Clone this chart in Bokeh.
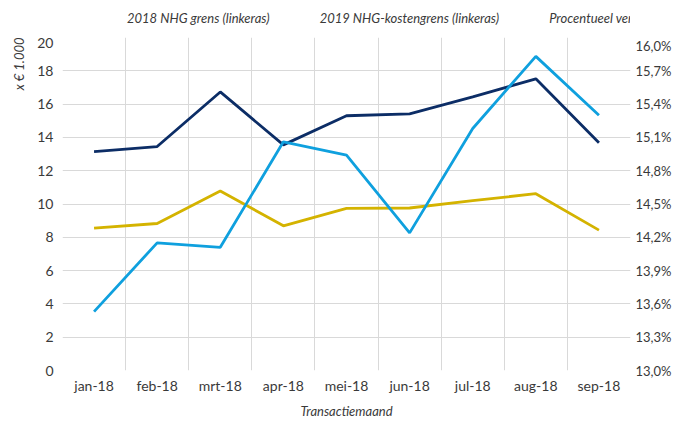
from bokeh.plotting import figure
from bokeh.layouts import column
from bokeh.models import (Range1d, LinearAxis, FixedTicker, CustomJSTickFormatter,
                          Legend, LegendItem, Title)
from bokeh.embed import file_html
from bokeh.resources import INLINE

months = ["jan-18", "feb-18", "mrt-18", "apr-18", "mei-18", "jun-18", "jul-18", "aug-18", "sep-18"]
nhg_2018 = [8.55, 8.83, 10.78, 8.69, 9.74, 9.76, 10.20, 10.62, 8.43]
nhg_2019 = [13.15, 13.45, 16.73, 13.55, 15.30, 15.41, 16.43, 17.52, 13.68]
pct_diff = [13.53, 14.15, 14.11, 15.06, 14.94, 14.24, 15.18, 15.83, 15.30]

left_ticks = [0, 2, 4, 6, 8, 10, 12, 14, 16, 18, 20]
pct_ticks = [13.0, 13.3, 13.6, 13.9, 14.2, 14.5, 14.8, 15.1, 15.4, 15.7, 16.0]
pct_tick_labels = ["13,0%", "13,3%", "13,6%", "13,9%", "14,2%", "14,5%", "14,8%",
                   "15,1%", "15,4%", "15,7%", "16,0%"]

series_names = ["2018 NHG grens (linkeras)", "2019 NHG-kostengrens (linkeras)",
                "Procentueel verschil (rechteras)"]

YELLOW = "#d4b300"
NAVY = "#0c2d66"
BLUE = "#0fa0de"
GRID = "#d9d9d9"
TXT = "#3a3a3a"
FONT = "Lato"
COLORS = [YELLOW, NAVY, BLUE]

xs = [i + 0.5 for i in range(len(months))]

# ---------------- main chart ----------------
p = figure(width=678, height=385, output_backend="svg", toolbar_location=None,
           x_range=Range1d(0, len(months)), y_range=Range1d(left_ticks[0], left_ticks[-1]),
           min_border_left=62, min_border_right=48, min_border_top=0, min_border_bottom=52)
p.outline_line_color = None
p.background_fill_color = "white"
p.border_fill_color = "white"

p.extra_y_ranges = {"pct": Range1d(pct_ticks[0], pct_ticks[-1])}

p.line(xs, nhg_2018, line_color=YELLOW, line_width=2.8)
p.line(xs, nhg_2019, line_color=NAVY, line_width=2.8)
p.line(xs, pct_diff, line_color=BLUE, line_width=2.8, y_range_name="pct")

xa = p.xaxis[0]
xa.ticker = FixedTicker(ticks=xs)
xa.formatter = CustomJSTickFormatter(args=dict(month_names=months),
                                     code="return month_names[Math.round(tick - 0.5)] || '';")
xa.axis_label = "Transactiemaand"
xa.axis_label_text_font = FONT
xa.axis_label_text_font_style = "italic"
xa.axis_label_text_font_size = "13px"
xa.axis_label_text_color = TXT
xa.axis_label_standoff = 6
xa.major_label_standoff = 6

ya = p.yaxis[0]
ya.ticker = FixedTicker(ticks=left_ticks)
ya.major_label_standoff = 9

ra = LinearAxis(y_range_name="pct",
                ticker=FixedTicker(ticks=pct_ticks),
                formatter=CustomJSTickFormatter(
                    args=dict(pct_vals=pct_ticks, pct_texts=pct_tick_labels),
                    code="const i = pct_vals.findIndex(t => Math.abs(t - tick) < 1e-6); return i >= 0 ? pct_texts[i] : '';"))
ra.major_label_standoff = 5
p.add_layout(ra, "right")

for ax in [xa, ya, ra]:
    ax.axis_line_color = None
    ax.major_tick_line_color = None
    ax.minor_tick_line_color = None
    ax.major_tick_out = 0
    ax.major_tick_in = 0
    ax.minor_tick_out = 0
    ax.minor_tick_in = 0
    ax.major_label_text_font = FONT
    ax.major_label_text_font_size = "14px"
    ax.major_label_text_color = TXT
ra.major_label_text_font_size = "13px"

p.xgrid.ticker = FixedTicker(ticks=list(range(len(months) + 1)))
p.ygrid.ticker = FixedTicker(ticks=left_ticks)
for g in [p.xgrid[0], p.ygrid[0]]:
    g.grid_line_color = GRID
    g.grid_line_width = 1

ytitle = Title(text="x € 1.000", align="right", text_font=FONT, text_font_style="italic",
               text_font_size="13px", text_color=TXT, standoff=15)
p.add_layout(ytitle, "left")

# ---------------- legend strip ----------------
lg = figure(width=678, height=37, output_backend="svg", toolbar_location=None,
            x_range=Range1d(0, 1), y_range=Range1d(0, 1),
            x_axis_type=None, y_axis_type=None,
            min_border_left=0, min_border_right=0, min_border_top=0, min_border_bottom=0)
lg.outline_line_color = None
lg.xgrid.visible = False
lg.ygrid.visible = False
lg.background_fill_color = "white"
lg.border_fill_color = "white"

items = []
for name, col in zip(series_names, COLORS):
    r = lg.line(x=[], y=[], line_color=col, line_width=4)
    items.append(LegendItem(label=name, renderers=[r]))

legend = Legend(items=items, orientation="horizontal", location=(35, 10),
                border_line_color=None, background_fill_alpha=0,
                label_text_font=FONT, label_text_font_style="italic",
                label_text_font_size="13px", label_text_color=TXT,
                glyph_width=25, glyph_height=18, label_height=18, label_standoff=5,
                spacing=20, padding=0, margin=0)
lg.add_layout(legend)

layout = column(lg, p, spacing=0)

open("out.html", "w").write(file_html(layout, INLINE))
